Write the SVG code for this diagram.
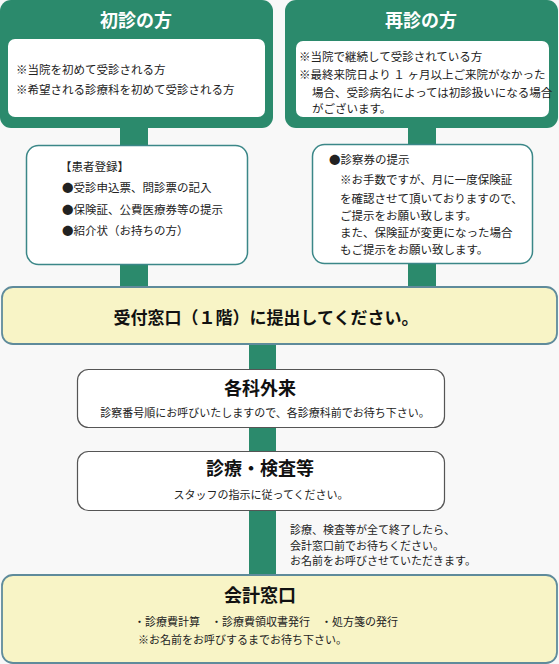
<svg xmlns="http://www.w3.org/2000/svg" width="559" height="664" viewBox="0 0 559 664">
<style>
text{font-family:"Noto Sans CJK JP","Noto Sans CJK SC",sans-serif;fill:#222}
.t{font-size:11.5px}
.s{font-size:11px}
.ttl{font-size:18px;font-weight:bold;fill:#fff}
.big{font-size:18px;font-weight:bold;fill:#111}
.mid{font-size:17px;font-weight:bold;fill:#111}
.green{fill:#2b8a6c}
.tealbox{fill:#fff;stroke:#3b8788;stroke-width:1.5}
.graybox{fill:#fff;stroke:#555;stroke-width:1.2}
.yel{fill:#f8f4c6;stroke:#5f8b9b;stroke-width:1.8}
</style>
<rect width="559" height="664" fill="#f8f8f8"/>
<g id="connectors" class="green">
<rect x="120" y="126" width="28" height="162"/>
<rect x="408" y="126" width="28" height="162"/>
<rect x="249" y="344" width="27" height="232"/>
</g>
<g id="shoshin">
<rect x="0" y="0" width="273" height="128" rx="11" class="green"/>
<rect x="8" y="39" width="257" height="78" rx="7" fill="#fff"/>
<text x="136" y="27" class="ttl" text-anchor="middle">初診の方</text>
<text x="16" y="74" class="t">※当院を初めて受診される方</text>
<text x="16" y="94" class="t">※希望される診療科を初めて受診される方</text>
</g>
<g id="saishin">
<rect x="285" y="0" width="273" height="128" rx="11" class="green"/>
<rect x="296" y="41" width="253" height="76" rx="7" fill="#fff"/>
<text x="421" y="27" class="ttl" text-anchor="middle">再診の方</text>
<text x="299" y="61" class="t">※当院で継続して受診されている方</text>
<text x="299" y="79" class="t">※最終来院日より １ ヶ月以上ご来院がなかった</text>
<text x="312" y="97" class="t">場合、受診病名によっては初診扱いになる場合</text>
<text x="312" y="113" class="t">がございます。</text>
</g>
<g id="touroku">
<rect x="26.5" y="145.5" width="221" height="119" rx="12" class="tealbox"/>
<text x="60" y="171" class="t">【患者登録】</text>
<text x="62" y="192" class="t">●受診申込票、問診票の記入</text>
<text x="62" y="214" class="t">●保険証、公費医療券等の提示</text>
<text x="62" y="235" class="t">●紹介状（お持ちの方）</text>
</g>
<g id="shinsatsuken">
<rect x="312.5" y="144.5" width="220" height="119" rx="12" class="tealbox"/>
<text x="329" y="164" class="t">●診察券の提示</text>
<text x="340" y="184" class="t">※お手数ですが、月に一度保険証</text>
<text x="340" y="203" class="t">を確認させて頂いておりますので、</text>
<text x="340" y="220" class="t">ご提示をお願い致します。</text>
<text x="340" y="237" class="t">また、保険証が変更になった場合</text>
<text x="340" y="254" class="t">もご提示をお願い致します。</text>
</g>
<g id="uketsuke">
<rect x="2" y="287" width="555" height="57" rx="11" class="yel"/>
<text x="266" y="324" class="mid" text-anchor="middle">受付窓口（１階）に提出してください。</text>
</g>
<g id="kakuka">
<rect x="77.5" y="369.5" width="367" height="58" rx="11" class="graybox"/>
<text x="260" y="395" class="big" text-anchor="middle">各科外来</text>
<text x="265" y="417" class="s" text-anchor="middle">診察番号順にお呼びいたしますので、各診療科前でお待ち下さい。</text>
</g>
<g id="shinryo">
<rect x="77.5" y="451.5" width="367" height="59" rx="11" class="graybox"/>
<text x="260" y="475" class="big" text-anchor="middle">診療・検査等</text>
<text x="261" y="499" class="s" text-anchor="middle">スタッフの指示に従ってください。</text>
</g>
<g id="note">
<text x="290" y="534" class="s">診療、検査等が全て終了したら、</text>
<text x="290" y="550" class="s">会計窓口前でお待ちください。</text>
<text x="290" y="565" class="s">お名前をお呼びさせていただきます。</text>
</g>
<g id="kaikei">
<rect x="2" y="575" width="555" height="88" rx="11" class="yel"/>
<text x="260" y="602" class="big" text-anchor="middle">会計窓口</text>
<text x="134" y="626" class="s">・診療費計算　・診療費領収書発行　・処方箋の発行</text>
<text x="138" y="644" class="s">※お名前をお呼びするまでお待ち下さい。</text>
</g>
</svg>
